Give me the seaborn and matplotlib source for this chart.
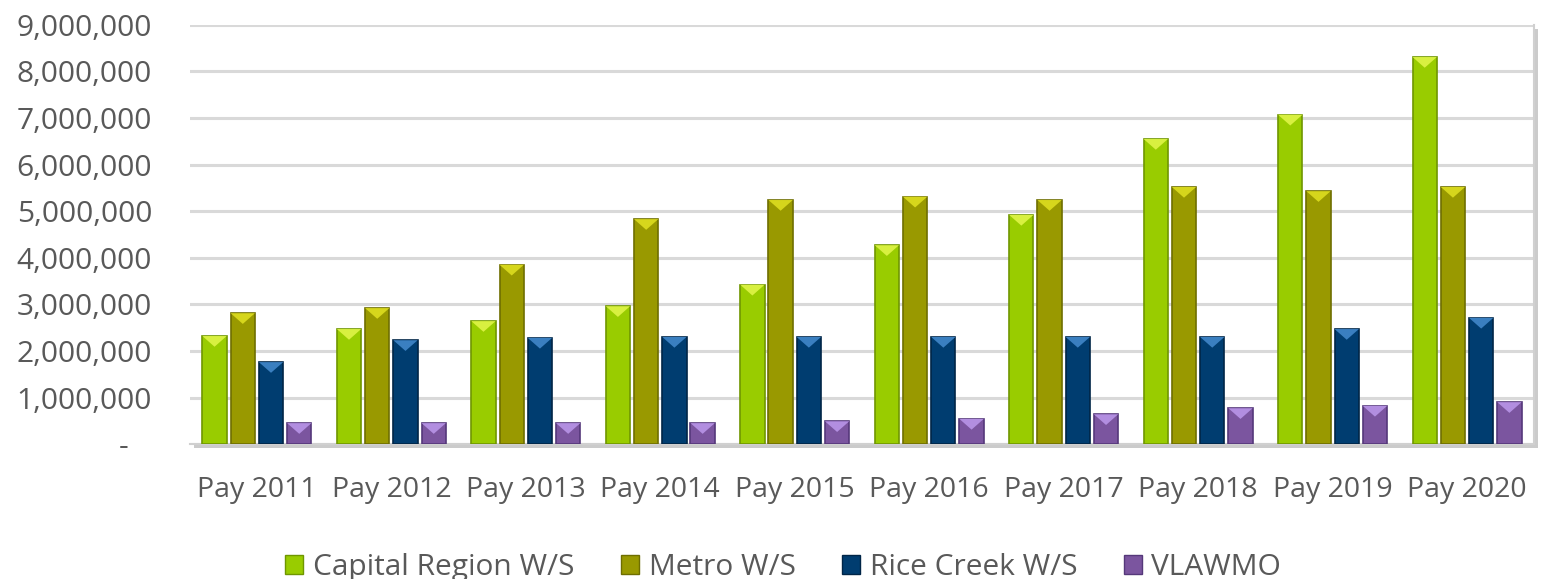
import matplotlib
matplotlib.use("Agg")
import matplotlib.pyplot as plt
import matplotlib.patheffects as pe
from matplotlib.patches import Polygon
from matplotlib.ticker import FuncFormatter
import seaborn as sns
import pandas as pd

years = ["Pay 2011", "Pay 2012", "Pay 2013", "Pay 2014", "Pay 2015",
         "Pay 2016", "Pay 2017", "Pay 2018", "Pay 2019", "Pay 2020"]
capital_region = [2320000, 2470000, 2640000, 2960000, 3420000,
                  4270000, 4920000, 6550000, 7070000, 8310000]
metro = [2810000, 2920000, 3850000, 4830000, 5240000,
         5310000, 5240000, 5520000, 5430000, 5520000]
rice_creek = [1760000, 2230000, 2280000, 2300000, 2300000,
              2300000, 2300000, 2300000, 2470000, 2710000]
vlawmo = [450000, 450000, 450000, 450000, 490000,
          540000, 640000, 770000, 820000, 900000]

series = ["Capital Region W/S", "Metro W/S", "Rice Creek W/S", "VLAWMO"]
colors = ["#99cc00", "#999900", "#003d70", "#7b559f"]
tops = ["#d8f040", "#d6d61c", "#3a7fc0", "#b28ee0"]
edges = ["#6f9600", "#6e6e00", "#002547", "#55387a"]

df = pd.DataFrame({
    "year": years * 4,
    "value": capital_region + metro + rice_creek + vlawmo,
    "series": [s for s in series for _ in years],
})

plt.rcParams["font.family"] = ["Open Sans", "DejaVu Sans"]

fig = plt.figure(figsize=(15.42, 5.79), dpi=100)
ax = fig.add_axes([0.123, 0.233, 0.872, 0.724])

sns.barplot(data=df, x="year", y="value", hue="series", hue_order=series,
            palette=colors, width=0.84, gap=0.14, ax=ax, legend=False,
            saturation=1, zorder=3)

# bevel-style top triangle and dark edge on each bar
for i, bars in enumerate(ax.containers):
    for p in bars:
        p.set_edgecolor(edges[i])
        p.set_linewidth(1.2)
        x, w, h = p.get_x(), p.get_width(), p.get_height()
        d = 230000
        tri = Polygon([(x, h), (x + w, h), (x + w / 2, h - d)],
                      closed=True, facecolor=tops[i], edgecolor="none",
                      zorder=4)
        ax.add_patch(tri)

ax.set_ylim(0, 9000000)
ax.set_xlim(-0.5, 9.5)
ax.yaxis.set_major_formatter(
    FuncFormatter(lambda v, _: "-   " if v == 0 else f"{v:,.0f}"))
ax.set_yticks(range(0, 9000001, 1000000))
ax.grid(axis="y", color="#d9d9d9", linewidth=2.2, zorder=0)
ax.set_axisbelow(True)
ax.tick_params(axis="y", length=0, pad=27, labelsize=21.5, labelcolor="#595959")
ax.tick_params(axis="x", length=0, pad=23, labelsize=20.5, labelcolor="#595959")
ax.set_xlabel("")
ax.set_ylabel("")
for s in ["top", "left"]:
    ax.spines[s].set_visible(False)
for s in ["right", "bottom"]:
    ax.spines[s].set_color("#d0d0d0")
    ax.spines[s].set_linewidth(1.5)
ax.patch.set_path_effects([pe.withSimplePatchShadow(offset=(3, -3),
                                                    shadow_rgbFace="#999999",
                                                    alpha=0.5)])

handles = [plt.Rectangle((0, 0), 1, 1, facecolor=c, edgecolor=e)
           for c, e in zip(colors, edges)]
fig.legend(handles, series, loc="center", bbox_to_anchor=(0.508, 0.02),
           ncol=4, frameon=False, fontsize=21.5, handlelength=0.6,
           handleheight=0.6, handletextpad=0.33, columnspacing=1.55,
           labelcolor="#595959")

fig.savefig("out.png", dpi=100)
